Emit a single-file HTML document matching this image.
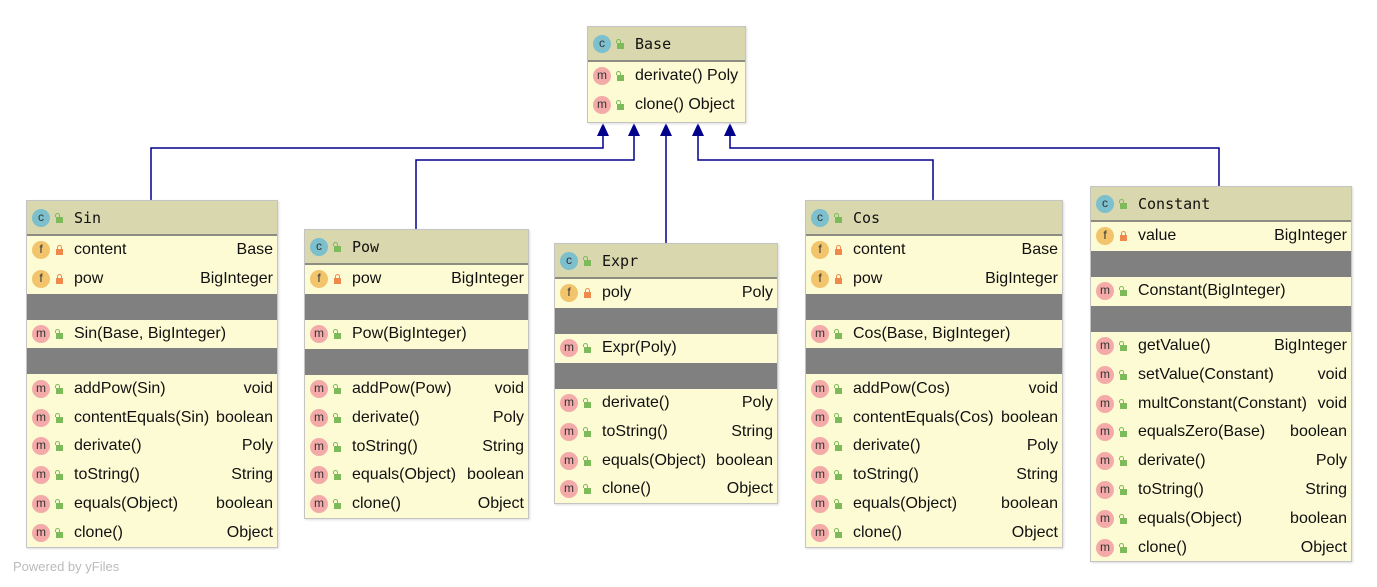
<!DOCTYPE html>
<html><head><meta charset="utf-8"><style>
body{margin:0;width:1377px;height:587px;background:#fff;position:relative;overflow:hidden;font-family:"Liberation Sans","DejaVu Sans",sans-serif;font-size:16px;color:#111}
.box{position:absolute;background:#fdfbd3;border:1px solid #c4c4c4;box-shadow:1px 1px 2px #ddd;box-sizing:border-box}
.hd{height:33px;background:#d9d7ad;border-bottom:2px solid #8c8c80;display:flex;align-items:center;font-family:"DejaVu Sans Mono","Liberation Mono",monospace;font-size:15px}
.r{height:28.8px;display:flex;align-items:center;padding-right:4px;white-space:nowrap}
.r span.t{margin-left:auto}
.g{height:26px;background:#808080}
.ic{width:18px;height:18px;border-radius:50%;margin-left:5px;font-size:12px;text-align:center;line-height:17px;flex:none;font-family:"Liberation Sans",sans-serif;color:#333}
.c{background:#7cbfcd}.f{background:#f2c56d}.m{background:#f3aaa8}
.lk{width:7px;height:6px;margin:4px 11px 0 6px;flex:none;background:#7dbb5a;position:relative}
.lk:before{content:"";position:absolute;left:-1px;top:-4px;width:3px;height:3px;border:1px solid #7dbb5a;border-bottom:none;border-radius:3px 3px 0 0}
.pr{background:#ef8a4c}.pr:before{border-color:#ef8a4c;left:1px}
.ft{position:absolute;left:13px;top:559px;color:#bbb;font-size:13px}
</style></head><body>
<svg width="1377" height="587" style="position:absolute;left:0;top:0">
<g stroke="#00008b" stroke-width="1.5" fill="none">
<polyline points="151,200 151,148 603,148 603,134"/>
<polyline points="416,229 416,160 634,160 634,134"/>
<polyline points="666,243 666,134"/>
<polyline points="933,200 933,160 698,160 698,134"/>
<polyline points="1219,186 1219,148 730,148 730,134"/>
</g>
<g fill="#00008b">
<polygon points="603,123 597,136 609,136"/>
<polygon points="634,123 628,136 640,136"/>
<polygon points="666,123 660,136 672,136"/>
<polygon points="698,123 692,136 704,136"/>
<polygon points="730,123 724,136 736,136"/>
</g>
</svg>

<div class="box" style="left:587px;top:26px;width:159px;height:97px">
<div class="hd"><span class="ic c">c</span><span class="lk"></span>Base</div>
<div class="r"><span class="ic m">m</span><span class="lk"></span>derivate() Poly</div>
<div class="r"><span class="ic m">m</span><span class="lk"></span>clone() Object</div>
</div>

<div class="box" style="left:26px;top:200px;width:252px;height:348px">
<div class="hd"><span class="ic c">c</span><span class="lk"></span>Sin</div>
<div class="r"><span class="ic f">f</span><span class="lk pr"></span>content<span class="t">Base</span></div>
<div class="r"><span class="ic f">f</span><span class="lk pr"></span>pow<span class="t">BigInteger</span></div>
<div class="g"></div>
<div class="r"><span class="ic m">m</span><span class="lk"></span>Sin(Base, BigInteger)</div>
<div class="g"></div>
<div class="r"><span class="ic m">m</span><span class="lk"></span>addPow(Sin)<span class="t">void</span></div>
<div class="r"><span class="ic m">m</span><span class="lk"></span>contentEquals(Sin)<span class="t">boolean</span></div>
<div class="r"><span class="ic m">m</span><span class="lk"></span>derivate()<span class="t">Poly</span></div>
<div class="r"><span class="ic m">m</span><span class="lk"></span>toString()<span class="t">String</span></div>
<div class="r"><span class="ic m">m</span><span class="lk"></span>equals(Object)<span class="t">boolean</span></div>
<div class="r"><span class="ic m">m</span><span class="lk"></span>clone()<span class="t">Object</span></div>
</div>

<div class="box" style="left:304px;top:229px;width:225px;height:290px">
<div class="hd"><span class="ic c">c</span><span class="lk"></span>Pow</div>
<div class="r"><span class="ic f">f</span><span class="lk pr"></span>pow<span class="t">BigInteger</span></div>
<div class="g"></div>
<div class="r"><span class="ic m">m</span><span class="lk"></span>Pow(BigInteger)</div>
<div class="g"></div>
<div class="r"><span class="ic m">m</span><span class="lk"></span>addPow(Pow)<span class="t">void</span></div>
<div class="r"><span class="ic m">m</span><span class="lk"></span>derivate()<span class="t">Poly</span></div>
<div class="r"><span class="ic m">m</span><span class="lk"></span>toString()<span class="t">String</span></div>
<div class="r"><span class="ic m">m</span><span class="lk"></span>equals(Object)<span class="t">boolean</span></div>
<div class="r"><span class="ic m">m</span><span class="lk"></span>clone()<span class="t">Object</span></div>
</div>

<div class="box" style="left:554px;top:243px;width:224px;height:261px">
<div class="hd"><span class="ic c">c</span><span class="lk"></span>Expr</div>
<div class="r"><span class="ic f">f</span><span class="lk pr"></span>poly<span class="t">Poly</span></div>
<div class="g"></div>
<div class="r"><span class="ic m">m</span><span class="lk"></span>Expr(Poly)</div>
<div class="g"></div>
<div class="r"><span class="ic m">m</span><span class="lk"></span>derivate()<span class="t">Poly</span></div>
<div class="r"><span class="ic m">m</span><span class="lk"></span>toString()<span class="t">String</span></div>
<div class="r"><span class="ic m">m</span><span class="lk"></span>equals(Object)<span class="t">boolean</span></div>
<div class="r"><span class="ic m">m</span><span class="lk"></span>clone()<span class="t">Object</span></div>
</div>

<div class="box" style="left:805px;top:200px;width:258px;height:348px">
<div class="hd"><span class="ic c">c</span><span class="lk"></span>Cos</div>
<div class="r"><span class="ic f">f</span><span class="lk pr"></span>content<span class="t">Base</span></div>
<div class="r"><span class="ic f">f</span><span class="lk pr"></span>pow<span class="t">BigInteger</span></div>
<div class="g"></div>
<div class="r"><span class="ic m">m</span><span class="lk"></span>Cos(Base, BigInteger)</div>
<div class="g"></div>
<div class="r"><span class="ic m">m</span><span class="lk"></span>addPow(Cos)<span class="t">void</span></div>
<div class="r"><span class="ic m">m</span><span class="lk"></span>contentEquals(Cos)<span class="t">boolean</span></div>
<div class="r"><span class="ic m">m</span><span class="lk"></span>derivate()<span class="t">Poly</span></div>
<div class="r"><span class="ic m">m</span><span class="lk"></span>toString()<span class="t">String</span></div>
<div class="r"><span class="ic m">m</span><span class="lk"></span>equals(Object)<span class="t">boolean</span></div>
<div class="r"><span class="ic m">m</span><span class="lk"></span>clone()<span class="t">Object</span></div>
</div>

<div class="box" style="left:1090px;top:186px;width:262px;height:376px">
<div class="hd"><span class="ic c">c</span><span class="lk"></span>Constant</div>
<div class="r"><span class="ic f">f</span><span class="lk pr"></span>value<span class="t">BigInteger</span></div>
<div class="g"></div>
<div class="r"><span class="ic m">m</span><span class="lk"></span>Constant(BigInteger)</div>
<div class="g"></div>
<div class="r"><span class="ic m">m</span><span class="lk"></span>getValue()<span class="t">BigInteger</span></div>
<div class="r"><span class="ic m">m</span><span class="lk"></span>setValue(Constant)<span class="t">void</span></div>
<div class="r"><span class="ic m">m</span><span class="lk"></span>multConstant(Constant)<span class="t">void</span></div>
<div class="r"><span class="ic m">m</span><span class="lk"></span>equalsZero(Base)<span class="t">boolean</span></div>
<div class="r"><span class="ic m">m</span><span class="lk"></span>derivate()<span class="t">Poly</span></div>
<div class="r"><span class="ic m">m</span><span class="lk"></span>toString()<span class="t">String</span></div>
<div class="r"><span class="ic m">m</span><span class="lk"></span>equals(Object)<span class="t">boolean</span></div>
<div class="r"><span class="ic m">m</span><span class="lk"></span>clone()<span class="t">Object</span></div>
</div>

<div class="ft">Powered by yFiles</div>
</body></html>
